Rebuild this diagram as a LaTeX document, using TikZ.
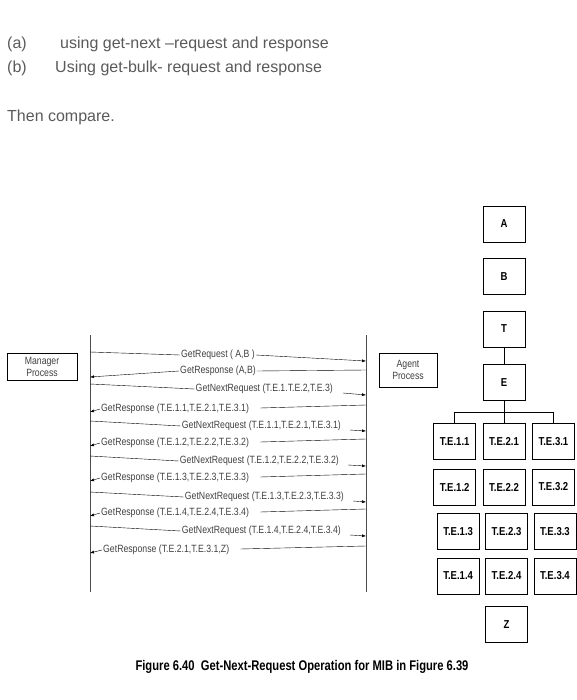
\documentclass[tikz,border=0pt]{standalone}
\usepackage{fontspec}
\setmainfont{Liberation Sans}
\newfontfamily\estrecha[FakeStretch=0.83]{Liberation Sans}
\newfontfamily\titular[FakeStretch=0.8]{Liberation Sans}
\usetikzlibrary{arrows.meta,positioning}
\definecolor{TextoGris}{HTML}{5A5A5A}
\definecolor{DarkGray}{HTML}{404040}
\tikzset{
  proceso/.style = {draw, align=center, font=\estrecha\fontsize{10.5}{12}\selectfont,
                    text=DarkGray, inner sep=2pt},
  caja/.style    = {draw, font=\estrecha\bfseries\fontsize{11.5}{13}\selectfont,
                    minimum width=42pt, minimum height=36pt, inner sep=1pt},
  lbl/.style     = {font=\estrecha\fontsize{10.5}{12}\selectfont, text=DarkGray, inner sep=1pt},
  flecha/.style  = {-{Latex[length=4pt,width=3pt]}},
  vida/.style    = {line width=0.8pt, black!70},
  nota/.style    = {font=\fontsize{16}{18}\selectfont, text=TextoGris, anchor=west, inner sep=0pt},
}
\begin{document}
\begin{tikzpicture}[x=1pt,y=-1pt]
  \useasboundingbox (0,0) rectangle (577,700);
  % enunciado
  \node[nota] (pa) at (7,44) {(a)};
  \node[nota] (ta) at (60,44) {using get-next –request and response};
  \node[nota] (pb) at (7,68) {(b)};
  \node[nota] (tb) at (55,68) {Using get-bulk- request and response};
  \node[nota] (tc) at (7,117) {Then compare.};

  % procesos y lineas de vida
  \node[proceso, minimum width=70pt, minimum height=27pt] (mgr) at (42,366.5) {Manager\\Process};
  \node[proceso, minimum width=58pt, minimum height=34pt] (agt) at (408,370) {Agent\\Process};
  \coordinate (vm) at (90,335);
  \coordinate (va) at (366,335);
  \draw[vida] (vm) -- ++(0,257);
  \draw[vida] (va) -- ++(0,257);

  % mensajes
  \node[lbl] (m1) at (218,355) {GetRequest ( A,B )};
  \node[lbl] (m2) at (218,371) {GetResponse (A,B)};
  \node[lbl, anchor=east] (m3) at (334,389) {GetNextRequest (T.E.1.T.E.2,T.E.3)};
  \node[lbl, anchor=west] (m4) at (100,409) {GetResponse (T.E.1.1,T.E.2.1,T.E.3.1)};
  \node[lbl, anchor=east] (m5) at (342,426) {GetNextRequest (T.E.1.1,T.E.2.1,T.E.3.1)};
  \node[lbl, anchor=west] (m6) at (100,443) {GetResponse (T.E.1.2,T.E.2.2,T.E.3.2)};
  \node[lbl, anchor=east] (m7) at (340,461) {GetNextRequest (T.E.1.2,T.E.2.2,T.E.3.2)};
  \node[lbl, anchor=west] (m8) at (100,478) {GetResponse (T.E.1.3,T.E.2.3,T.E.3.3)};
  \node[lbl, anchor=east] (m9) at (345,497) {GetNextRequest (T.E.1.3,T.E.2.3,T.E.3.3)};
  \node[lbl, anchor=west] (m10) at (100,513) {GetResponse (T.E.1.4,T.E.2.4,T.E.3.4)};
  \node[lbl, anchor=east] (m11) at (342,531) {GetNextRequest (T.E.1.4,T.E.2.4,T.E.3.4)};
  \node[lbl, anchor=west] (m12) at (102,550) {GetResponse (T.E.2.1,T.E.3.1,Z)};

  \draw ([yshift=3pt]m1.west -| vm) -- (m1.west);
  \draw[flecha] (m1.east) -- ([yshift=-6pt]m1.east -| va);
  \draw ([yshift=1pt]m2.east -| va) -- (m2.east);
  \draw[flecha] (m2.west) -- ([yshift=-6pt]m2.west -| vm);
  \draw ([yshift=5pt]m3.west -| vm) -- (m3.west);
  \draw[flecha] ([xshift=9pt,yshift=-4pt]m3.east) -- ([yshift=-6pt]m3.east -| va);
  \draw ([yshift=4pt]m4.east -| va) -- ([xshift=10pt,yshift=1pt]m4.east);
  \draw[flecha] (m4.west) -- ([yshift=-3pt]m4.west -| vm);
  \draw ([yshift=5pt]m5.west -| vm) -- (m5.west);
  \draw[flecha] ([xshift=8pt,yshift=-4pt]m5.east) -- ([yshift=-5pt]m5.east -| va);
  \draw ([yshift=4pt]m6.east -| va) -- ([xshift=10pt,yshift=1pt]m6.east);
  \draw[flecha] (m6.west) -- ([yshift=-3pt]m6.west -| vm);
  \draw ([yshift=5pt]m7.west -| vm) -- (m7.west);
  \draw[flecha] ([xshift=8pt,yshift=-4pt]m7.east) -- ([yshift=-5pt]m7.east -| va);
  \draw ([yshift=4pt]m8.east -| va) -- ([xshift=10pt,yshift=1pt]m8.east);
  \draw[flecha] (m8.west) -- ([yshift=-3pt]m8.west -| vm);
  \draw ([yshift=5pt]m9.west -| vm) -- (m9.west);
  \draw[flecha] ([xshift=8pt,yshift=-4pt]m9.east) -- ([yshift=-5pt]m9.east -| va);
  \draw ([yshift=4pt]m10.east -| va) -- ([xshift=10pt,yshift=1pt]m10.east);
  \draw[flecha] (m10.west) -- ([yshift=-3pt]m10.west -| vm);
  \draw ([yshift=5pt]m11.west -| vm) -- (m11.west);
  \draw[flecha] ([xshift=8pt,yshift=-4pt]m11.east) -- ([yshift=-5pt]m11.east -| va);
  \draw ([yshift=4pt]m12.east -| va) -- ([xshift=10pt,yshift=1pt]m12.east);
  \draw[flecha] (m12.west) -- ([yshift=-3pt]m12.west -| vm);

  % arbol MIB
  \node[caja] (A) at (504,224) {A};
  \node[caja, below=16pt of A] (B) {B};
  \node[caja, below=16pt of B] (T) {T};
  \node[caja, below=17pt of T] (E) {E};
  \node[caja, below=23pt of E] (te21) {T.E.2.1};
  \node[caja, left=7pt of te21] (te11) {T.E.1.1};
  \node[caja, right=7pt of te21] (te31) {T.E.3.1};
  \node[caja, below=9pt of te21] (te22) {T.E.2.2};
  \node[caja, left=7pt of te22] (te12) {T.E.1.2};
  \node[caja, right=7pt of te22] (te32) {T.E.3.2};
  \node[caja, below=8pt of te22, xshift=2.5pt] (te23) {T.E.2.3};
  \node[caja, left=6pt of te23] (te13) {T.E.1.3};
  \node[caja, right=6pt of te23] (te33) {T.E.3.3};
  \node[caja, below=8pt of te23] (te24) {T.E.2.4};
  \node[caja, left=6pt of te24] (te14) {T.E.1.4};
  \node[caja, right=6pt of te24] (te34) {T.E.3.4};
  \node[caja, below=12pt of te24] (Z) {Z};
  \draw (T) -- (E);
  \draw (E) -- (te21);
  \draw (te11.north) -- ++(0,-11) -| (te31.north);

  % pie
  \node[font=\titular\bfseries\fontsize{14}{16}\selectfont] (cap) at (302,667)
    {Figure 6.40\ \ Get-Next-Request Operation for MIB in Figure 6.39};
\end{tikzpicture}
\end{document}
